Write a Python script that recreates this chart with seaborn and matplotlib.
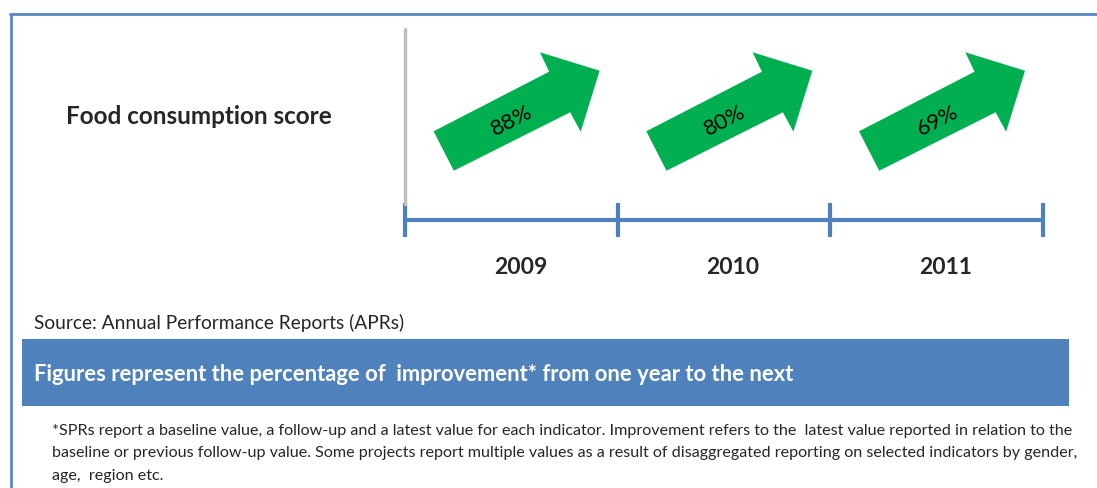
import numpy as np
import pandas as pd
import seaborn as sns
import matplotlib.pyplot as plt
from matplotlib.patches import Polygon, Rectangle

# Chart data
years = [2009, 2010, 2011]
improvement = [88, 80, 69]
indicator = "Food consumption score"
source_text = "Source: Annual Performance Reports (APRs)"
banner_text = "Figures represent the percentage of  improvement* from one year to the next"
footnote_lines = [
    "*SPRs report a baseline value, a follow-up and a latest value for each indicator. "
    "Improvement refers to the  latest value reported in relation to the",
    "baseline or previous follow-up value. Some projects report multiple values as a result "
    "of disaggregated reporting on selected indicators by gender,",
    "age,  region etc.",
]

W, H = 1097, 489
X0, Y0, STEP = 405, 221, 212.7   # first tick (px) and px per year

BLUE = "#4F81BD"
GREEN = "#00B050"

sns.set_style("white")
plt.rcParams["font.family"] = ["Lato", "DejaVu Sans"]

fig = plt.figure(figsize=(W / 100, H / 100), dpi=100)
ax = fig.add_axes([0, 0, 1, 1])
ax.set_xlim(-X0 / STEP, (W - X0) / STEP)
ax.set_ylim(-(H - Y0) / STEP, Y0 / STEP)
ax.axis("off")

# Timeline
bounds = np.arange(len(years) + 1)
timeline = pd.DataFrame({"pos": bounds, "level": np.zeros(len(bounds))})
sns.lineplot(data=timeline, x="pos", y="level", ax=ax, color=BLUE, lw=3)
ax.vlines(bounds, -17 / STEP, 17 / STEP, color=BLUE, lw=3)

# grey separator above the first tick
ax.plot([0, 0], [16 / STEP, 191 / STEP], color="#BFBFBF", lw=2.5)

# arrow outline, px offsets from the start of its year
arrow_px = np.array([
    [48.8, 49.3], [28.6, 88.7], [144.2, 148.3], [134.9, 167.7],
    [194.6, 149.3], [175.7, 88.3], [165.2, 107.7],
])
arrow_shape = arrow_px / STEP

for i, (year, pct) in enumerate(zip(years, improvement)):
    pts = arrow_shape + np.array([i, 0])
    ax.add_patch(Polygon(pts, closed=True, facecolor=GREEN, edgecolor="none"))
    ax.text(i + 107 / STEP, 100 / STEP, f"{pct}%", rotation=27,
            ha="center", va="center", fontsize=16, color="black")
    ax.text(i + 0.5 + 9 / STEP, -47 / STEP, str(year), ha="center",
            va="center", fontsize=16.5, fontweight="bold")

# Frame lines
fig.add_artist(plt.Line2D([10 / W, 1], [1 - 15 / H, 1 - 15 / H],
                          color="#5A8AC6", lw=2))
fig.add_artist(plt.Line2D([11 / W, 11 / W], [0, 1 - 15 / H],
                          color="#5A8AC6", lw=2))

fig.text(66 / W, 1 - 116 / H, indicator, ha="left", va="center",
         fontsize=17.5, fontweight="bold")
fig.text(34 / W, 1 - 323 / H, source_text, ha="left", va="center",
         fontsize=13.8)

fig.add_artist(Rectangle((22 / W, 1 - 407 / H), (1069 - 22) / W, 67 / H,
                         transform=fig.transFigure, facecolor=BLUE,
                         edgecolor="none"))
fig.text(34 / W, 1 - 375 / H, banner_text, ha="left", va="center",
         fontsize=15.8, fontweight="bold", color="white")

for k, line in enumerate(footnote_lines):
    fig.text(52 / W, 1 - (431 + 22.5 * k) / H, line, ha="left",
             va="center", fontsize=11.6)

fig.savefig("out.png", dpi=100)
